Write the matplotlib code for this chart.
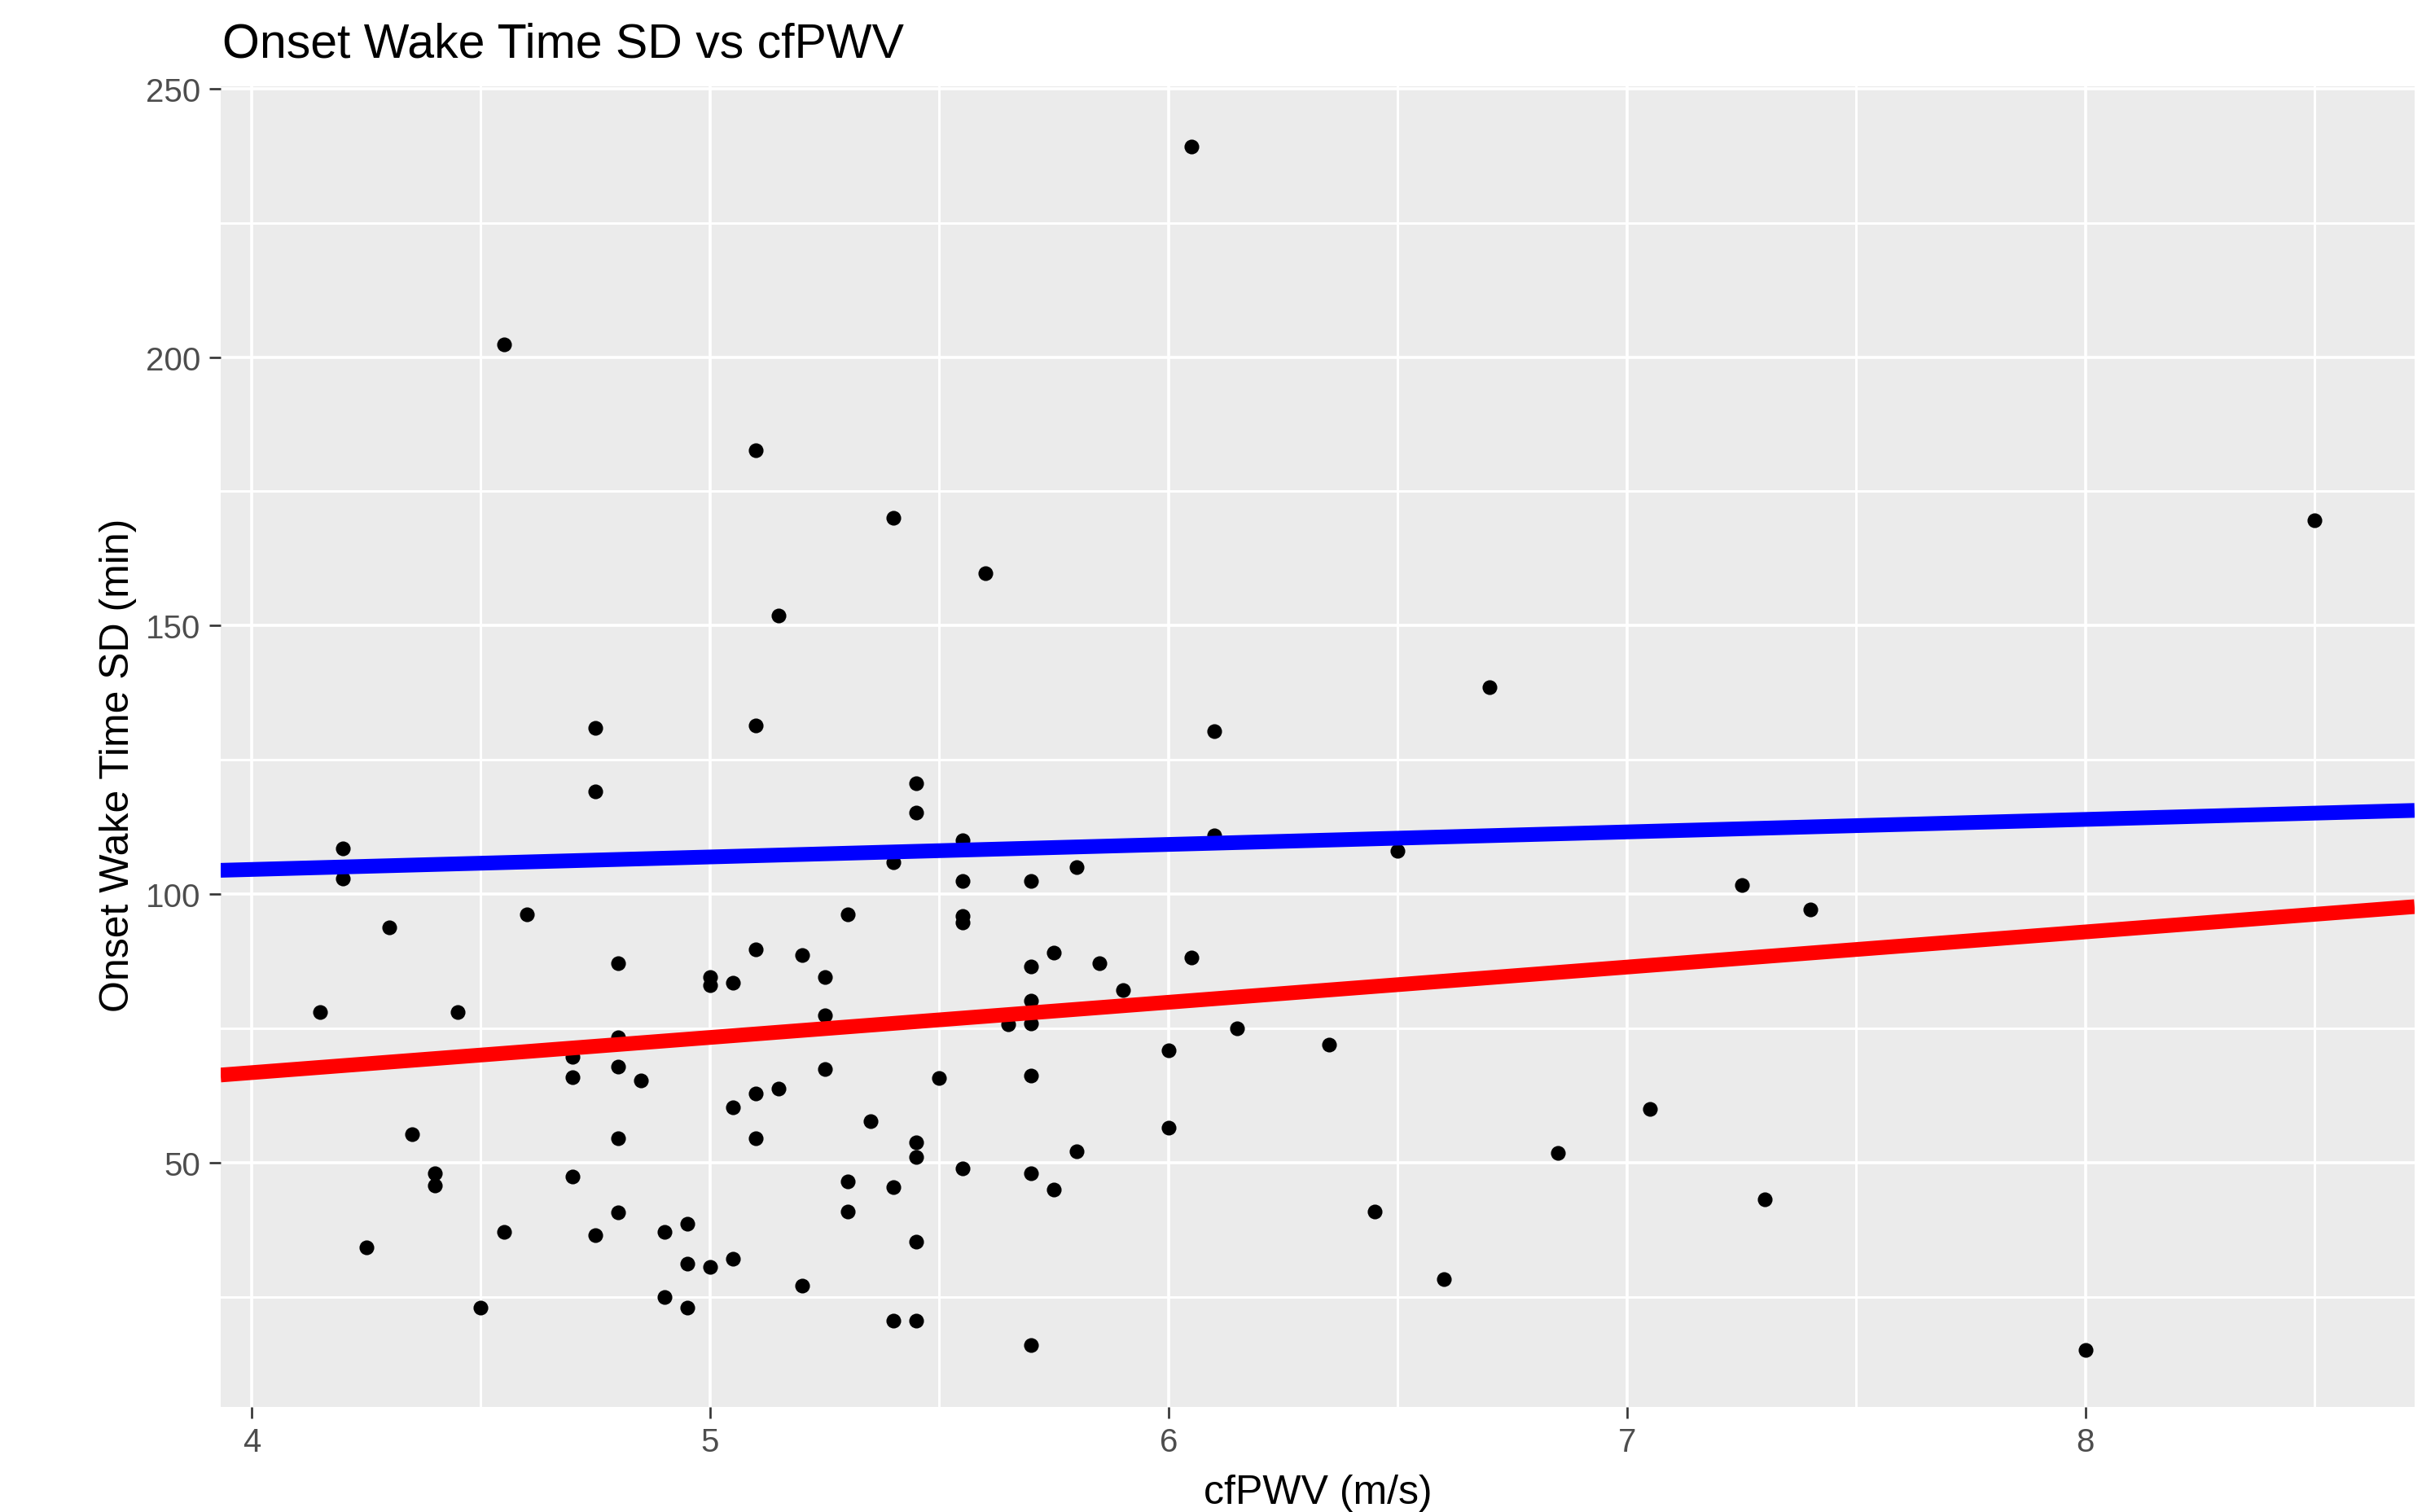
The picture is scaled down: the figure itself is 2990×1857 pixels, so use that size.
import matplotlib
matplotlib.use("Agg")
import matplotlib.pyplot as plt
from matplotlib.ticker import MultipleLocator

plt.rcParams['font.family'] = ['Liberation Sans', 'DejaVu Sans']

# cfPWV (m/s) and onset wake time SD (min)
cfpwv = [
    4.15, 4.2, 4.2, 4.25, 4.3, 4.35, 4.4, 4.4, 4.45, 4.5,
    4.55, 4.55, 4.6, 4.7, 4.7, 4.7, 4.75, 4.75, 4.75, 4.8,
    4.8, 4.8, 4.8, 4.8, 4.85, 4.9, 4.9, 4.95, 4.95, 4.95,
    5.0, 5.0, 5.0, 5.05, 5.05, 5.05, 5.1, 5.1, 5.1, 5.1,
    5.1, 5.15, 5.15, 5.2, 5.2, 5.25, 5.25, 5.25, 5.3, 5.3,
    5.3, 5.35, 5.4, 5.4, 5.4, 5.4, 5.45, 5.45, 5.45, 5.45,
    5.45, 5.45, 5.5, 5.55, 5.55, 5.55, 5.55, 5.55, 5.6, 5.65,
    5.7, 5.7, 5.7, 5.7, 5.7, 5.7, 5.7, 5.75, 5.75, 5.8,
    5.8, 5.85, 5.9, 6.0, 6.0, 6.05, 6.05, 6.1, 6.1, 6.15,
    6.35, 6.45, 6.5, 6.6, 6.7, 6.85, 7.05, 7.25, 7.3, 7.4,
    8.0, 8.5,
]
wake_sd = [
    78.0, 108.6, 102.9, 34.2, 93.8, 55.3, 48.0, 45.8, 78.0, 23.0,
    202.4, 37.2, 96.3, 69.7, 65.9, 47.4, 131.0, 119.2, 36.6, 87.2,
    73.3, 67.9, 54.6, 40.8, 65.3, 37.2, 25.1, 38.7, 31.2, 23.0,
    84.6, 83.1, 30.7, 83.6, 60.3, 32.1, 182.7, 131.5, 89.8, 62.9,
    54.6, 151.9, 63.8, 88.7, 27.2, 84.6, 77.5, 67.4, 96.3, 46.5,
    40.9, 57.8, 170.0, 106.0, 45.5, 20.6, 120.7, 115.2, 53.8, 51.1,
    35.4, 20.6, 65.8, 110.0, 102.4, 96.0, 94.8, 49.0, 159.8, 75.8,
    102.4, 86.6, 80.2, 76.0, 66.3, 48.0, 16.1, 89.1, 45.0, 105.0,
    52.1, 87.1, 82.1, 70.9, 56.5, 239.2, 88.2, 130.4, 111.0, 75.0,
    72.0, 41.0, 108.1, 28.4, 138.6, 51.9, 60.0, 101.7, 43.2, 97.1,
    15.1, 169.6,
]

# reference lines (intercept, slope)
line_colors = ['blue', 'red']
line_intercepts = [95.3, 40.6]
line_slopes = [2.33, 6.55]

fig = plt.figure(figsize=(29.9, 18.58), dpi=100)
ax = fig.add_axes([0.0906, 0.0692, 0.9010, 0.8732])
ax.set_facecolor('#EBEBEB')

ax.scatter(cfpwv, wake_sd, s=170, color='black', linewidths=0, zorder=3)

xlim = (3.9325, 8.7175)
for col, b0, b1 in zip(line_colors, line_intercepts, line_slopes):
    ax.plot(xlim, [b0 + b1 * xlim[0], b0 + b1 * xlim[1]], color=col,
            linewidth=13, solid_capstyle='butt', zorder=4)

ax.set_xlim(xlim)
ax.set_ylim(4.5, 250.4)

ax.xaxis.set_major_locator(MultipleLocator(1))
ax.xaxis.set_minor_locator(MultipleLocator(0.5))
ax.yaxis.set_major_locator(MultipleLocator(50))
ax.yaxis.set_minor_locator(MultipleLocator(25))

ax.set_axisbelow(True)
ax.grid(which='major', color='white', linewidth=2.6)
ax.grid(which='minor', color='white', linewidth=2.1)

for s in ax.spines.values():
    s.set_visible(False)

ax.tick_params(which='major', length=10, width=1.9, color='#333333',
               labelsize=29, labelcolor='#4D4D4D')
ax.tick_params(axis='x', which='major', pad=7)
ax.tick_params(axis='y', which='major', pad=8)
ax.tick_params(which='minor', length=0)

fig.text(0.0913, 0.9618, 'Onset Wake Time SD vs cfPWV', fontsize=42.5,
         color='black', ha='left', va='baseline')
fig.text(0.5411, 0.0059, 'cfPWV (m/s)', fontsize=36, color='black',
         ha='center', va='baseline')
fig.text(0.0408, 0.494, 'Onset Wake Time SD (min)', fontsize=36, color='black',
         rotation=90, ha='left', va='center')

fig.savefig('out.png', dpi=100, facecolor='white')
